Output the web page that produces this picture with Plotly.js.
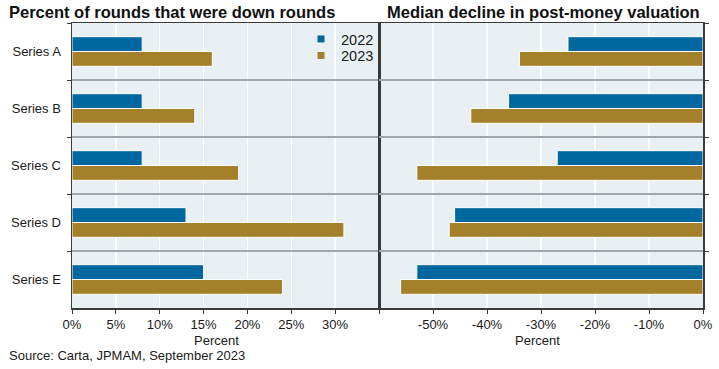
<!DOCTYPE html>
<html>
<head>
<meta charset="utf-8">
<script src="https://cdn.plot.ly/plotly-3.0.1.min.js"></script>
<style>html,body{margin:0;padding:0;background:#fff}#chart{width:719px;height:369px}</style>
</head>
<body>
<div id="chart"></div>
<script>
const categories = ['Series A', 'Series B', 'Series C', 'Series D', 'Series E'];
const downRounds2022 = [8, 8, 8, 13, 15];
const downRounds2023 = [16, 14, 19, 31, 24];
const decline2022 = [-25, -36, -27, -46, -53];
const decline2023 = [-34, -43, -53, -47, -56];
const leftTicks = [0, 5, 10, 15, 20, 25, 30, 35];
const leftTickText = ['0%', '5%', '10%', '15%', '20%', '25%', '30%', ''];
const rightTicks = [-60, -50, -40, -30, -20, -10, 0];
const rightTickText = ['', '-50%', '-40%', '-30%', '-20%', '-10%', '0%'];

const BLUE = '#00679F', GOLD = '#A5802A';
const FONT = 'Arial, "Liberation Sans", sans-serif';
const W = 719, PT = 23, PB = 308, PH = PB - PT;
const py = p => (PB - p) / PH;

const barLine = {color: '#ffffff', width: 1};
const traces = [
  {type: 'bar', orientation: 'h', y: categories, x: downRounds2022, name: '2022', marker: {color: BLUE, line: barLine}, xaxis: 'x', yaxis: 'y', showlegend: false},
  {type: 'bar', orientation: 'h', y: categories, x: downRounds2023, name: '2023', marker: {color: GOLD, line: barLine}, xaxis: 'x', yaxis: 'y', showlegend: false},
  {type: 'bar', orientation: 'h', y: categories, x: decline2022, name: '2022', marker: {color: BLUE, line: barLine}, xaxis: 'x2', yaxis: 'y2', showlegend: false},
  {type: 'bar', orientation: 'h', y: categories, x: decline2023, name: '2023', marker: {color: GOLD, line: barLine}, xaxis: 'x2', yaxis: 'y2', showlegend: false},
  {type: 'scatter', mode: 'markers', x: [null], y: [null], name: '2022', legend: 'legend', marker: {symbol: 'square', size: 7, color: BLUE}, xaxis: 'x', yaxis: 'y'},
  {type: 'scatter', mode: 'markers', x: [null], y: [null], name: '2023', legend: 'legend2', marker: {symbol: 'square', size: 7, color: GOLD}, xaxis: 'x', yaxis: 'y'}
];

const axisLine = {showline: true, linecolor: '#3a3a3a', linewidth: 1.5, mirror: true};
const xCommon = Object.assign({}, axisLine, {
  showgrid: true, gridcolor: '#ffffff', gridwidth: 1.5, zeroline: false,
  ticks: 'outside', ticklen: 4, tickcolor: '#3a3a3a', tickwidth: 1,
  tickfont: {family: FONT, size: 13, color: '#1a1a1a'}, fixedrange: true
});
const yCommon = Object.assign({}, axisLine, {
  type: 'category', categoryorder: 'array', categoryarray: categories,
  autorange: 'reversed', tickson: 'boundaries',
  showgrid: true, gridcolor: '#A3A6A8', gridwidth: 1.5, zeroline: false,
  ticks: 'outside', ticklen: 4, tickcolor: '#3a3a3a', tickwidth: 1,
  tickfont: {family: FONT, size: 13, color: '#1a1a1a'}, fixedrange: true
});

const legendCommon = {x: 379 / W, xanchor: 'right', yanchor: 'middle', bgcolor: 'rgba(0,0,0,0)', borderwidth: 0,
  font: {family: FONT, size: 14.5, color: '#1a1a1a'}, itemwidth: 30};

const layout = {
  width: W, height: 369,
  margin: {l: 0, r: 0, t: PT, b: 369 - PB, pad: 0},
  paper_bgcolor: '#ffffff', plot_bgcolor: '#E8F0F3',
  barmode: 'group', bargap: 0.48, bargroupgap: 0,
  font: {family: FONT, color: '#1a1a1a'},
  xaxis: Object.assign({}, xCommon, {domain: [72 / W, 379 / W], range: [0, 35], tickmode: 'array', tickvals: leftTicks, ticktext: leftTickText, anchor: 'y'}),
  xaxis2: Object.assign({}, xCommon, {domain: [379 / W, 703 / W], range: [-60, 0], tickmode: 'array', tickvals: rightTicks, ticktext: rightTickText, anchor: 'y2'}),
  yaxis: Object.assign({}, yCommon, {anchor: 'x', side: 'left', domain: [0, 1], ticklabelstandoff: 7}),
  yaxis2: Object.assign({}, yCommon, {anchor: 'x2', side: 'right', showticklabels: false, domain: [0, 1]}),
  showlegend: true,
  legend: Object.assign({}, legendCommon, {y: py(39)}),
  legend2: Object.assign({}, legendCommon, {y: py(55.5)}),
  annotations: [
    {text: '<b>Percent of rounds that were down rounds</b>', xref: 'paper', yref: 'paper', x: 7 / W, y: py(12), xanchor: 'left', yanchor: 'middle', showarrow: false, font: {family: FONT, size: 16.5, color: '#111'}},
    {text: '<b>Median decline in post-money valuation</b>', xref: 'paper', yref: 'paper', x: 702 / W, y: py(12), xanchor: 'right', yanchor: 'middle', showarrow: false, font: {family: FONT, size: 16.5, color: '#111'}},
    {text: 'Percent', xref: 'paper', yref: 'paper', x: 216 / W, y: py(340), xanchor: 'center', yanchor: 'middle', showarrow: false, font: {family: FONT, size: 13, color: '#1a1a1a'}},
    {text: 'Percent', xref: 'paper', yref: 'paper', x: 537 / W, y: py(340), xanchor: 'center', yanchor: 'middle', showarrow: false, font: {family: FONT, size: 13, color: '#1a1a1a'}},
    {text: 'Source: Carta, JPMAM, September 2023', xref: 'paper', yref: 'paper', x: 7 / W, y: py(355), xanchor: 'left', yanchor: 'middle', showarrow: false, font: {family: FONT, size: 13, color: '#1a1a1a'}}
  ]
};

Plotly.newPlot('chart', traces, layout, {displayModeBar: false, staticPlot: true});
</script>
</body>
</html>
